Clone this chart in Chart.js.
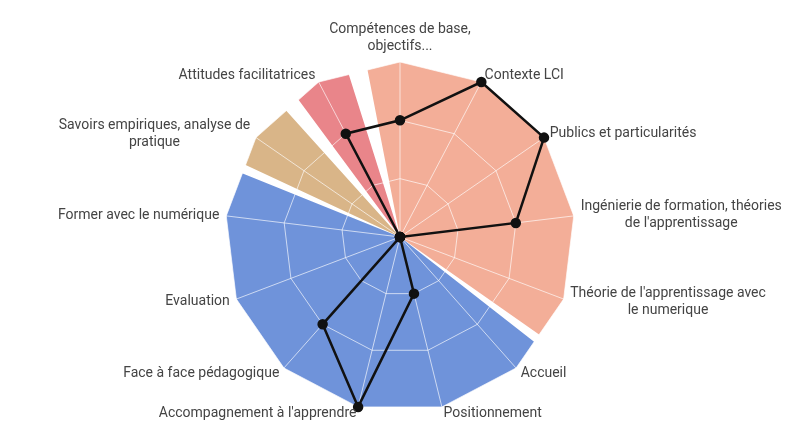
<!DOCTYPE html>
<html lang="fr">
<head>
<meta charset="utf-8">
<title>Compétences</title>
<script src="https://cdn.jsdelivr.net/npm/chart.js@4.4.1/dist/chart.umd.min.js"></script>
<style>
  html, body { margin: 0; padding: 0; background: #fff; }
  #wrap { position: relative; width: 808px; height: 423px; }
  #wrap canvas { position: absolute; left: 0; top: 0; }
</style>
</head>
<body>
<div id="wrap">
  <canvas id="chart-bg" width="808" height="423"></canvas>
  <canvas id="chart-radar" width="808" height="423"></canvas>
</div>
<script>
const categories = [
  ['Compétences de base,', 'objectifs...'],
  'Contexte LCI',
  'Publics et particularités',
  ['Ingénierie de formation, théories', "de l'apprentissage"],
  ["Théorie de l'apprentissage avec", 'le numerique'],
  'Accueil',
  'Positionnement',
  "Accompagnement à l'apprendre",
  'Face à face pédagogique',
  'Evaluation',
  'Former avec le numérique',
  ['Savoirs empiriques, analyse de', 'pratique'],
  'Attitudes facilitatrices',
];
const scores = [2, 3, 3, 2, 0, 0, 1, 3, 2, 0, 0, 0, 2];

// background sectors, clockwise from the top (angles in degrees)
const sectorValues = [3, 0, 3, 0, 3, 0, 3, 0, 3];
const sectorAngles = [125, 3, 164, 3, 23, 5.5, 19, 6.5, 11];
const sectorColors = ['#f3ae98', '#ffffff', '#6f93da', '#ffffff', '#d9b588', '#ffffff', '#e9858a', '#ffffff', '#f3ae98'];

const SCALE_MAX = 3;
const LABEL_GAP = 7;
const LINE_HEIGHT = 17;
const layoutPadding = { top: 62, bottom: 11, left: 0, right: 8 };

function radialScale(extra) {
  return Object.assign({
    min: 0,
    max: SCALE_MAX,
    startAngle: 0,
    ticks: { display: false, stepSize: 1 },
    pointLabels: { display: false },
  }, extra);
}

// keep the sectors inside the outer polygon of the radial scale
const polygonClip = {
  id: 'polygonClip',
  beforeDatasetsDraw(chart) {
    const scale = chart.scales.r;
    const c = chart.ctx;
    c.save();
    c.beginPath();
    for (let i = 0; i < categories.length; i++) {
      const p = scale.getPointPositionForValue(i, SCALE_MAX);
      if (i === 0) c.moveTo(p.x, p.y); else c.lineTo(p.x, p.y);
    }
    c.closePath();
    c.clip();
  },
  afterDatasetsDraw(chart) {
    chart.ctx.restore();
  },
};

// category names: block sits just outside each corner, lines centred inside the block
const cornerLabels = {
  id: 'cornerLabels',
  afterDraw(chart) {
    const scale = chart.scales.r;
    const c = chart.ctx;
    const dist = scale.getDistanceFromCenterForValue(SCALE_MAX) + LABEL_GAP;
    c.save();
    c.font = '14px Roboto';
    c.fillStyle = '#444444';
    c.textAlign = 'center';
    c.textBaseline = 'middle';
    categories.forEach((label, i) => {
      const lines = Array.isArray(label) ? label : [label];
      const w = Math.max(...lines.map(l => c.measureText(l).width));
      const h = lines.length * LINE_HEIGHT;
      const p = scale.getPointPosition(i, dist);
      const dx = p.x - scale.xCenter;
      let cx = p.x;
      let top = p.y - h / 2;
      if (Math.abs(dx) < 2) {
        top = p.y - h;
      } else if (dx > 0) {
        cx = p.x + w / 2;
      } else {
        cx = p.x - w / 2;
      }
      lines.forEach((line, k) => c.fillText(line, cx, top + LINE_HEIGHT * (k + 0.5)));
    });
    c.restore();
  },
};

new Chart(document.getElementById('chart-bg'), {
  type: 'polarArea',
  data: {
    labels: categories,
    datasets: [{
      data: sectorValues,
      backgroundColor: sectorColors,
      borderWidth: 0,
      angle: ctx => sectorAngles[ctx.dataIndex],
    }],
  },
  options: {
    responsive: false,
    animation: false,
    layout: { padding: layoutPadding },
    plugins: { legend: { display: false }, tooltip: { enabled: false } },
    scales: {
      r: radialScale({
        grid: { display: false },
        angleLines: { display: false },
      }),
    },
  },
  plugins: [polygonClip],
});

new Chart(document.getElementById('chart-radar'), {
  type: 'radar',
  data: {
    labels: categories,
    datasets: [{
      data: scores,
      borderColor: '#111111',
      borderWidth: 2.5,
      fill: false,
      pointRadius: 4,
      pointBackgroundColor: '#111111',
      pointBorderColor: '#111111',
    }],
  },
  options: {
    responsive: false,
    animation: false,
    layout: { padding: layoutPadding },
    plugins: { legend: { display: false }, tooltip: { enabled: false } },
    scales: {
      r: radialScale({
        grid: { color: 'rgba(255,255,255,0.65)', lineWidth: 1 },
        angleLines: { color: 'rgba(255,255,255,0.65)', lineWidth: 1 },
      }),
    },
  },
  plugins: [cornerLabels],
});
</script>
</body>
</html>
